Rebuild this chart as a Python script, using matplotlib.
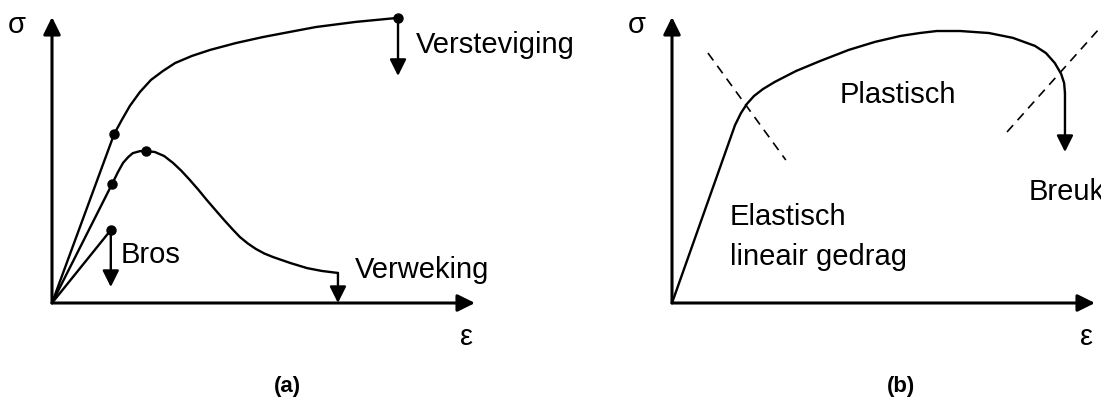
import matplotlib.pyplot as plt

plt.rcParams['font.family'] = ['Liberation Sans', 'DejaVu Sans']

# --- (a) stress-strain behaviour, axis runs 0..100 in both directions ---
hard_eps = [0, 14.7, 16.5, 18.4, 20.8, 23.4, 26.2, 29.1, 33.1, 37.4, 43.5, 49.9, 56.3, 62.4, 71.9, 81.8]
hard_sig = [0, 59.1, 64.0, 68.9, 73.8, 78.0, 81.1, 83.9, 86.4, 88.5, 90.9, 93.0, 94.8, 96.5, 98.3, 99.7]
hard_drop = 79.4

soft_eps = [0, 14.2, 15.6, 16.8, 18.0, 19.1, 20.8, 22.2, 24.3, 26.5, 28.6, 30.6, 32.6, 34.6, 36.6,
            38.7, 40.7, 42.6, 44.4, 46.3, 48.2, 50.2, 52.2, 56.3, 60.3, 63.8, 67.6]
soft_sig = [0, 41.6, 45.8, 49.0, 51.0, 52.4, 53.1, 53.1, 52.8, 51.4, 49.0, 46.2, 43.0, 39.6, 36.0,
            32.4, 29.0, 25.9, 23.1, 20.8, 18.9, 17.3, 16.1, 14.0, 12.2, 11.2, 10.5]
soft_yield = (14.2, 41.6)
soft_peak = (22.2, 53.1)
soft_drop = 0.0

brittle_eps = [0, 13.9]
brittle_sig = [0, 25.5]
brittle_drop = 5.6

# --- (b) typical curve with elastic / plastic regions ---
curve_eps = [0, 14.9, 16.3, 17.7, 19.4, 21.5, 24.3, 29.3, 35.0, 41.8, 48.0, 54.1, 58.6, 62.6,
             68.1, 74.9, 80.6, 85.8, 88.4, 90.5, 92.0, 92.7, 92.9]
curve_sig = [0, 62.2, 66.4, 69.6, 72.4, 74.8, 77.3, 81.1, 84.6, 88.5, 91.3, 93.4, 94.4, 95.1,
             95.1, 94.4, 92.7, 89.9, 87.4, 83.9, 80.1, 76.9, 73.4]
fracture_drop = 52.8

yield_line_eps = [8.5, 26.9]
yield_line_sig = [87.4, 50.0]
neck_line_eps = [79.2, 103.3]
neck_line_sig = [59.8, 99.7]

W, H = 1101, 399
fig = plt.figure(figsize=(W / 100, H / 100), dpi=100)
ax_a = fig.add_axes([52 / W, 96 / H, 423 / W, 286 / H])
ax_b = fig.add_axes([672 / W, 96 / H, 423 / W, 286 / H])

FS = 21


def arrow(ax, x0, y0, x1, y1, lw, hl, hw):
    ax.annotate('', xy=(x1, y1), xytext=(x0, y0), annotation_clip=False,
                arrowprops=dict(arrowstyle=f'-|>,head_length={hl},head_width={hw}',
                                mutation_scale=1, shrinkA=0, shrinkB=0,
                                lw=lw, color='black'))


for ax in (ax_a, ax_b):
    ax.set_xlim(0, 100)
    ax.set_ylim(0, 100)
    ax.axis('off')
    arrow(ax, 0, 0, 100, 0, 2.2, 10.5, 5.2)
    arrow(ax, 0, 0, 0, 100, 2.2, 10.5, 5.2)
    ax.text(-8.4, 94.4, 'σ', fontsize=FS, ha='center', va='baseline')
    ax.text(98.0, -14.7, 'ε', fontsize=FS, ha='center', va='baseline')

# panel (a)
kw = dict(color='black', lw=1.7, clip_on=False, solid_capstyle='round')
ax_a.plot(hard_eps, hard_sig, **kw)
ax_a.plot(soft_eps, soft_sig, **kw)
ax_a.plot(brittle_eps, brittle_sig, **kw)
dots_x = [hard_eps[1], hard_eps[-1], soft_yield[0], soft_peak[0], brittle_eps[-1]]
dots_y = [hard_sig[1], hard_sig[-1], soft_yield[1], soft_peak[1], brittle_sig[-1]]
ax_a.plot(dots_x, dots_y, 'o', ms=6.5, color='black', clip_on=False)

arrow(ax_a, hard_eps[-1], hard_sig[-1], hard_eps[-1], hard_drop, 1.7, 10.0, 5.0)
arrow(ax_a, brittle_eps[-1], brittle_sig[-1], brittle_eps[-1], brittle_drop, 1.7, 10.0, 5.0)
arrow(ax_a, soft_eps[-1], soft_sig[-1], soft_eps[-1], soft_drop, 1.7, 10.0, 5.0)

ax_a.text(86.1, 87.4, 'Versteviging', fontsize=FS, ha='left', va='baseline')
ax_a.text(16.3, 14.0, 'Bros', fontsize=FS, ha='left', va='baseline')
ax_a.text(71.6, 8.7, 'Verweking', fontsize=FS, ha='left', va='baseline')
ax_a.text(55.6, -29.2, '(a)', fontsize=16, fontweight='bold', ha='center', va='center')

# panel (b)
ax_b.plot(curve_eps, curve_sig, **kw)
arrow(ax_b, curve_eps[-1], curve_sig[-1], curve_eps[-1], fracture_drop, 1.7, 10.0, 5.0)
dash = dict(color='black', lw=1.2, ls=(0, (5.5, 4)), clip_on=False)
ax_b.plot(yield_line_eps, yield_line_sig, **dash)
ax_b.plot(neck_line_eps, neck_line_sig, **dash)

ax_b.text(39.7, 69.9, 'Plastisch', fontsize=FS, ha='left', va='baseline')
ax_b.text(13.7, 27.3, 'Elastisch', fontsize=FS, ha='left', va='baseline')
ax_b.text(13.7, 13.3, 'lineair gedrag', fontsize=FS, ha='left', va='baseline')
ax_b.text(84.2, 36.0, 'Breuk', fontsize=FS, ha='left', va='baseline')
ax_b.text(54.1, -29.2, '(b)', fontsize=16, fontweight='bold', ha='center', va='center')

fig.savefig('out.png', dpi=100)
